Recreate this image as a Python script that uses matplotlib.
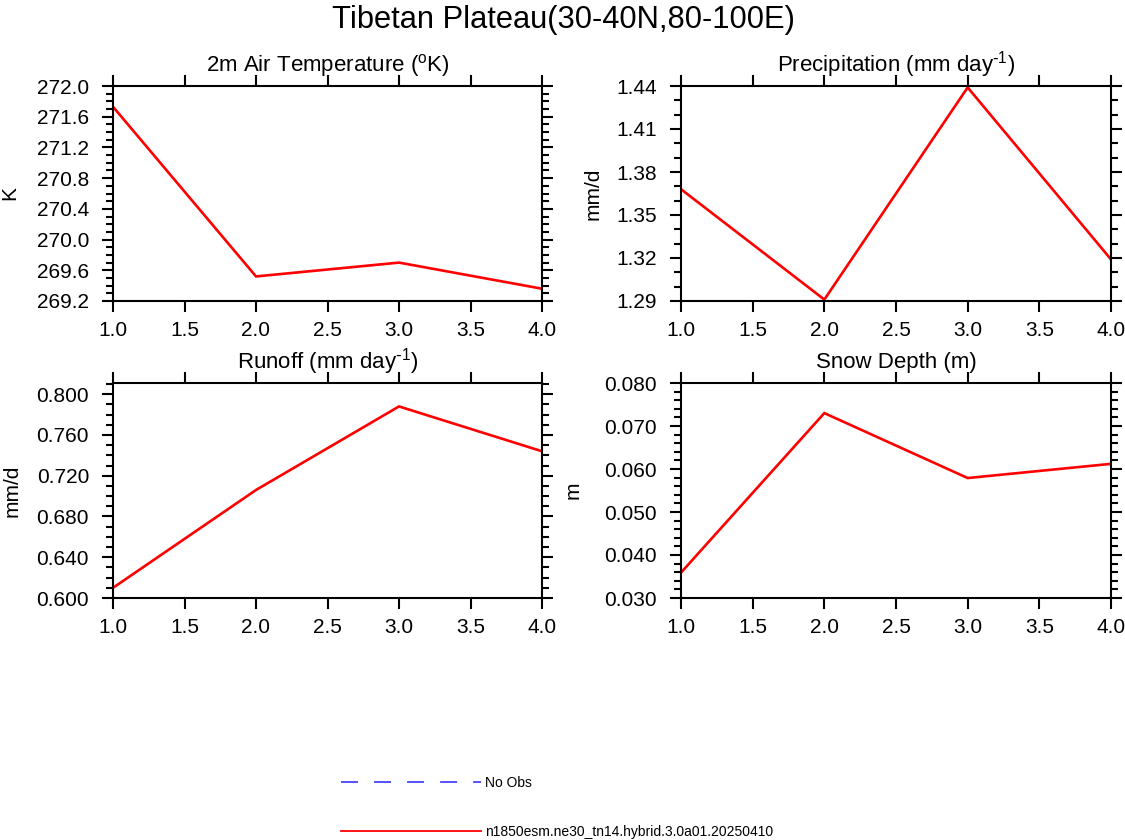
import matplotlib
matplotlib.use("Agg")
import matplotlib.pyplot as plt
from matplotlib.lines import Line2D
from matplotlib.ticker import MultipleLocator, FormatStrFormatter

plt.rcParams['font.family'] = ['Liberation Sans', 'DejaVu Sans']

# data
years = [1, 2, 3, 4]
tsa = [271.73, 269.52, 269.70, 269.36]
precip = [1.368, 1.291, 1.439, 1.319]
runoff = [0.610, 0.706, 0.788, 0.744]
snow = [0.0359, 0.0730, 0.0579, 0.0612]

titles = ['2m Air Temperature ($\\mathregular{^o}$K)',
          'Precipitation (mm day$\\mathregular{^{\\text{-}1}}$)',
          'Runoff (mm day$\\mathregular{^{\\text{-}1}}$)',
          'Snow Depth (m)']
ylabels = ['K', 'mm/d', 'mm/d', 'm']
ylims = [(269.2, 272.0), (1.29, 1.44), (0.600, 0.811), (0.030, 0.080)]
ymajor = [0.4, 0.03, 0.04, 0.010]
yminor = [0.1, 0.01, 0.01, 0.002]
yfmt = ['%.1f', '%.2f', '%.3f', '%.3f']
series = [tsa, precip, runoff, snow]

case_name = 'n1850esm.ne30_tn14.hybrid.3.0a01.20250410'

fig = plt.figure(figsize=(11.25, 8.4), dpi=100)

W, H = 1125.0, 840.0
boxes = [(113, 86, 542, 301), (681, 86, 1111, 301),
         (113, 383, 542, 598), (681, 383, 1111, 598)]
label_x = [19, 603, 22, 583]

for i, (x0, y0, x1, y1) in enumerate(boxes):
    ax = fig.add_axes([x0 / W, 1 - y1 / H, (x1 - x0) / W, (y1 - y0) / H])
    ax.plot(years, series[i], color='red', lw=1.9, solid_joinstyle='miter')
    ax.set_xlim(1.0, 4.0)
    ax.set_ylim(*ylims[i])
    ax.xaxis.set_major_locator(MultipleLocator(0.5))
    ax.xaxis.set_major_formatter(FormatStrFormatter('%.1f'))
    ax.yaxis.set_major_locator(MultipleLocator(ymajor[i]))
    ax.yaxis.set_minor_locator(MultipleLocator(yminor[i]))
    ax.yaxis.set_major_formatter(FormatStrFormatter(yfmt[i]))
    for s in ax.spines.values():
        s.set_linewidth(1.5)
    ax.tick_params(axis='both', which='both', direction='out', width=1.5,
                   top=True, right=True, labelsize=15)
    ax.tick_params(axis='both', which='major', length=8.2)
    ax.tick_params(axis='y', which='minor', length=4.8)
    ax.tick_params(axis='x', which='major', pad=6)
    ax.tick_params(axis='y', which='major', pad=9)
    ax.set_title(titles[i], fontsize=16, y=1.0, pad=10.5)
    ax.set_ylabel(ylabels[i], fontsize=15)
    ax.yaxis.set_label_coords((label_x[i] - x0) / (x1 - x0), 0.5)

fig.text(0.5009, 1 - 28 / H, 'Tibetan Plateau(30-40N,80-100E)',
         ha='center', va='baseline', fontsize=22.2)

handles = [Line2D([], [], color='#4444ff', lw=1.3, linestyle=(0, (9.4, 8.9))),
           Line2D([], [], color='red', lw=1.3)]
fig.legend(handles, ['No Obs', case_name], loc='upper left',
           bbox_to_anchor=(341 / W, 1 - 776 / H), frameon=False,
           fontsize=10, handlelength=10.1, handletextpad=0.3,
           labelspacing=2.53, borderpad=0, borderaxespad=0)

fig.savefig('out.png', dpi=100)
